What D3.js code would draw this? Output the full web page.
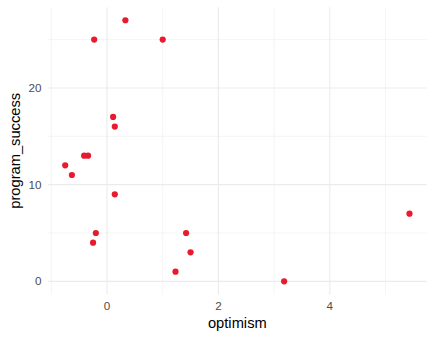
<!DOCTYPE html>
<html>
<head>
<meta charset="utf-8">
<script src="https://cdn.jsdelivr.net/npm/d3@7"></script>
<style>
  body { margin: 0; background: #fff; }
  svg { display: block; font-family: "Liberation Sans", Arial, sans-serif; }
</style>
</head>
<body>
<div id="chart"></div>
<script>
// data
var optimism = [0.33, -0.23, 1.0, 0.11, 0.14, -0.41, -0.34, -0.75, -0.63, 0.14, -0.2, -0.25, 1.42, 1.5, 1.23, 3.18, 5.43];
var programSuccess = [27, 25, 25, 17, 16, 13, 13, 12, 11, 9, 5, 4, 5, 3, 1, 0, 7];
var xTicks = [0, 2, 4];
var xMinor = [-1, 1, 3, 5];
var yTicks = [0, 10, 20];
var yMinor = [5, 15, 25];

var w = 434, h = 338;
// panel edges (note: "top" is a reserved window global, so don't use it)
var pLeft = 48, pRight = 426.7, pTop = 7.2, pBottom = 294.4;

var points = optimism.map(function(d, i) { return {x: d, y: programSuccess[i]}; });

var xMin = d3.min(optimism), xMax = d3.max(optimism);
var xPad = (xMax - xMin) * 0.05;
var yMin = d3.min(programSuccess), yMax = d3.max(programSuccess);
var yPad = (yMax - yMin) * 0.05;

var x = d3.scaleLinear().domain([xMin - xPad, xMax + xPad]).range([pLeft, pRight]);
var y = d3.scaleLinear().domain([yMin - yPad, yMax + yPad]).range([pBottom, pTop]);

var svg = d3.select("#chart")
  .append("svg")
  .attr("width", w)
  .attr("height", h);

// minor grid
svg.selectAll(".xminor").data(xMinor).enter().append("line")
  .attr("x1", function(d) { return x(d); }).attr("x2", function(d) { return x(d); })
  .attr("y1", pTop).attr("y2", pBottom)
  .attr("stroke", "#ebebeb").attr("stroke-width", 0.55);
svg.selectAll(".yminor").data(yMinor).enter().append("line")
  .attr("x1", pLeft).attr("x2", pRight)
  .attr("y1", function(d) { return y(d); }).attr("y2", function(d) { return y(d); })
  .attr("stroke", "#ebebeb").attr("stroke-width", 0.55);

// major grid
svg.selectAll(".xmajor").data(xTicks).enter().append("line")
  .attr("x1", function(d) { return x(d); }).attr("x2", function(d) { return x(d); })
  .attr("y1", pTop).attr("y2", pBottom)
  .attr("stroke", "#ebebeb").attr("stroke-width", 1.1);
svg.selectAll(".ymajor").data(yTicks).enter().append("line")
  .attr("x1", pLeft).attr("x2", pRight)
  .attr("y1", function(d) { return y(d); }).attr("y2", function(d) { return y(d); })
  .attr("stroke", "#ebebeb").attr("stroke-width", 1.1);

// tick labels
svg.selectAll(".xlab").data(xTicks).enter().append("text")
  .attr("x", function(d) { return x(d); })
  .attr("y", pBottom + 15.5)
  .attr("text-anchor", "middle")
  .attr("font-size", "11.7px")
  .attr("fill", "#4d4d4d")
  .text(function(d) { return d; });
svg.selectAll(".ylab").data(yTicks).enter().append("text")
  .attr("x", pLeft - 6.5)
  .attr("y", function(d) { return y(d); })
  .attr("dy", "0.35em")
  .attr("text-anchor", "end")
  .attr("font-size", "11.7px")
  .attr("fill", "#4d4d4d")
  .text(function(d) { return d; });

// axis titles
svg.append("text")
  .attr("x", (pLeft + pRight) / 2)
  .attr("y", 327.5)
  .attr("text-anchor", "middle")
  .attr("font-size", "14.7px")
  .attr("fill", "#000")
  .text("optimism");
svg.append("text")
  .attr("transform", "translate(20," + ((pTop + pBottom) / 2) + ") rotate(-90)")
  .attr("text-anchor", "middle")
  .attr("font-size", "14.7px")
  .attr("fill", "#000")
  .text("program_success");

// points
svg.selectAll(".pt").data(points).enter().append("circle")
  .attr("cx", function(d) { return x(d.x); })
  .attr("cy", function(d) { return y(d.y); })
  .attr("r", 3.1)
  .attr("fill", "#e81a2e");
</script>
</body>
</html>
